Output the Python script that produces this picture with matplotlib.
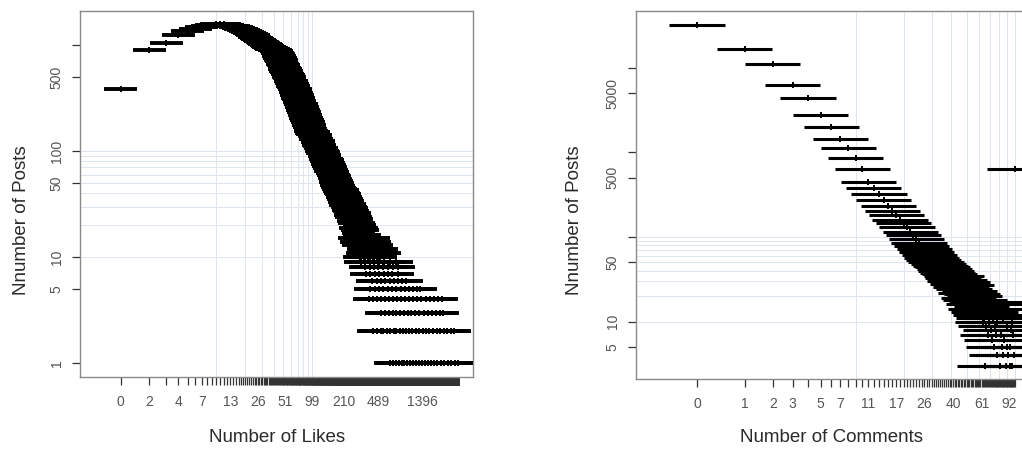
import numpy as np
import matplotlib
matplotlib.use('Agg')
import matplotlib.pyplot as plt
from matplotlib.ticker import NullLocator

plt.rcParams['font.family'] = ['Liberation Sans', 'DejaVu Sans']

# ---------------- likes: number of posts for each like count ----------------
# 0 .. 100 likes, one value per like count
likes_a = list(range(0, 101))
posts_a = [385, 900, 1045, 1240, 1340, 1420, 1480, 1525, 1550, 1560,
           1565, 1560, 1545, 1525, 1505, 1480, 1455, 1425, 1395, 1360,
           1330, 1295, 1265, 1235, 1200, 1175, 1145, 1120, 1095, 1070,
           1045, 1020, 1000, 985, 965, 950, 935, 925, 915, 905,
           895, 872, 836, 815, 781, 760, 726, 703, 664, 642,
           611, 596, 566, 555, 528, 521, 494, 483, 461, 455,
           434, 428, 409, 403, 386, 383, 364, 355, 336, 333,
           317, 312, 297, 293, 279, 275, 262, 260, 246, 244,
           232, 231, 219, 218, 207, 206, 197, 196, 187, 186,
           178, 177, 169, 170, 161, 162, 154, 156, 148, 150, 145]
# 102 .. 200 likes
likes_b = [102, 104, 106, 108, 110, 112, 114, 116, 118, 120, 122, 124, 126, 128, 130,
           132, 134, 136, 138, 140, 142, 144, 146, 148, 150, 152, 154, 156, 158, 160,
           162, 164, 166, 168, 170, 172, 174, 176, 178, 180, 182, 184, 186, 188, 190,
           192, 194, 196, 198, 200]
posts_b = [150, 139, 143, 131, 129, 121, 124, 113, 112, 106, 108, 100, 101, 95, 97,
           90, 91, 85, 84, 80, 82, 76, 77, 72, 74, 69, 70, 65, 67, 62,
           63, 59, 60, 56, 58, 53, 54, 51, 52, 48, 50, 46, 47, 44, 45,
           42, 44, 40, 41, 39]
# 203 .. 406 likes
likes_c = [203, 206, 209, 212, 215, 218, 221, 224, 227, 230, 233, 236, 240, 243, 247,
           251, 255, 259, 263, 267, 271, 275, 280, 284, 289, 294, 299, 304, 309, 314,
           320, 326, 332, 338, 345, 352, 359, 366, 374, 382, 390, 398, 406]
posts_c = [43, 37, 40, 35, 39, 33, 37, 31, 35, 30, 34, 28, 32, 27, 30,
           25, 29, 24, 27, 22, 26, 21, 24, 19, 23, 18, 21, 17, 20, 16,
           19, 15, 18, 14, 16, 13, 15, 12, 14, 11, 13, 10, 12]

# sparse tail: like values that occur in exactly n posts
tail_n = [1, 2, 3, 4, 5, 6, 7, 8, 9, 10, 11, 12, 13, 14, 15]
tail_likes = [
    [650, 690, 742, 801, 856, 913, 977, 1052, 1118, 1204, 1290, 1377, 1480, 1602,
     1735, 1869, 2011, 2190, 2374, 2580, 2810, 3060, 3300],
    [432, 470, 515, 548, 596, 640, 702, 748, 815, 880, 951, 1030, 1106, 1195, 1300,
     1412, 1530, 1665, 1810, 1975, 2150, 2340, 2560, 2800, 3030],
    [523, 575, 622, 688, 745, 818, 902, 985, 1080, 1190, 1310, 1445, 1590, 1760,
     1950, 2140, 2290],
    [392, 430, 476, 520, 571, 633, 690, 760, 840, 925, 1015, 1120, 1240, 1370, 1520,
     1690, 1870, 2060, 2230],
    [402, 447, 498, 548, 610, 672, 745, 830, 918, 1020, 1130, 1245, 1340],
    [421, 466, 520, 575, 640, 712, 790, 870, 948],
    [366, 402, 447, 496, 552, 610, 680, 778],
    [356, 395, 438, 488, 545, 612, 690, 781],
    [318, 352, 395, 440, 495, 560, 640, 745],
    [314, 348, 384, 430, 475, 508],
    [331, 368, 410, 455, 505, 560],
    [342, 380, 425, 470, 522],
    [300, 336, 372, 418, 462],
    [290, 326, 365, 404, 447],
    [276, 309, 345, 386, 430],
]

likes_tick_at = [0, 1, 3, 6, 13, 26, 51, 99, 210, 489, 1396]
likes_tick_lab = ['0', '2', '4', '7', '13', '26', '51', '99', '210', '489', '1396']
likes_max = 3330

# ---------------- comments: number of posts for each comment count ----------------
comments = list(range(0, 100))
comments_posts = [32000, 16500, 11100, 6250, 4350, 2780, 1970, 1430, 1120, 850,
                  630, 451, 380, 324, 274, 235, 204, 180, 160, 145,
                  130, 115, 105, 95, 85, 78, 72, 66, 61, 57,
                  54, 51, 48, 46, 44, 42, 40, 38, 37, 35,
                  33, 30, 35, 28, 31, 26, 29, 24, 22, 27,
                  19, 23, 18, 21, 16, 20, 14, 17, 13, 18,
                  12, 15, 10, 11, 3, 9, 12, 7, 10, 13,
                  8, 6, 11, 5, 9, 7, 4, 10, 16, 14,
                  3, 7, 5, 11, 4, 6, 17, 3, 5, 9,
                  4, 12, 3, 5, 8, 10, 3, 7, 4, 630]
comm_tick = [0, 1, 2, 3, 5, 7, 11, 17, 26, 40, 61, 92]

grid_vals = [10, 20, 30, 40, 50, 60, 70, 80, 90, 100]

half = 0.4          # half width of each segment on the log(x+1) axis
gray_axis = '#8a8a8a'
gray_text = '#555555'


def fwd(v):
    return np.log1p(np.clip(v, -0.999, None))


def inv(v):
    return np.expm1(v)


def draw(ax, x, n, lw):
    x = np.asarray(x, dtype=float)
    n = np.asarray(n, dtype=float)
    u = np.log1p(x)
    ax.hlines(n, np.expm1(u - half), np.expm1(u + half), color='black', lw=lw, zorder=3)
    ax.plot(x, n, ls='none', marker='+', ms=4.5, mew=1.4, color='black', zorder=4)


def style(ax, ylim, yticks, ylabs, xlim, xticks, xlabs, minor):
    ax.set_xscale('function', functions=(fwd, inv))
    ax.set_yscale('log')
    for v in grid_vals:
        ax.axvline(v - 1, color='#dce6ef', lw=0.7, zorder=1)
        ax.axhline(v, color='#dce6ef', lw=0.7, zorder=1)
    ax.set_xlim(*xlim)
    ax.set_ylim(*ylim)
    ax.yaxis.set_minor_locator(NullLocator())
    ax.set_yticks(yticks)
    ax.set_yticklabels(ylabs, rotation=90, va='center')
    ax.set_xticks(xticks)
    ax.set_xticklabels(xlabs)
    ax.set_xticks(minor, minor=True)
    ax.tick_params(which='both', direction='out', length=5.8, width=0.9,
                   color='#333333', labelcolor=gray_text, labelsize=10)
    ax.tick_params(axis='x', pad=7)
    ax.tick_params(axis='y', pad=6)
    for sp in ax.spines.values():
        sp.set_color(gray_axis)
        sp.set_linewidth(1.0)


fig = plt.figure(figsize=(10.22, 4.49), dpi=100)

# left panel: likes
ax1 = fig.add_axes([80 / 1022, 72 / 449, 393 / 1022, 366 / 449])
draw(ax1, likes_a, posts_a, 2.8)
draw(ax1, likes_b, posts_b, 2.8)
draw(ax1, likes_c, posts_c, 2.8)
for k, row in zip(tail_n, tail_likes):
    draw(ax1, row, [k] * len(row), 2.8)
style(ax1, (0.742, 2090), [1, 5, 10, 50, 100, 500, 1000],
      ['1', '5', '10', '50', '100', '500', ''],
      (np.expm1(-0.976), np.expm1(8.464)), likes_tick_at, likes_tick_lab,
      np.arange(0, likes_max + 1))

# right panel: comments
ax2 = fig.add_axes([636 / 1022, 70 / 449, 392 / 1022, 368 / 449])
draw(ax2, comments, comments_posts, 2.2)
style(ax2, (2.1, 46800), [5, 10, 50, 100, 500, 1000, 5000, 10000],
      ['5', '10', '50', '', '500', '', '5000', ''],
      (np.expm1(-0.884), np.expm1(4.80)), comm_tick, [str(c) for c in comm_tick],
      np.arange(0, 100))

fig.text(277 / 1022, 1 - 437 / 449, 'Number of Likes', ha='center', va='center',
         fontsize=13.5, color='#2a2a2a')
fig.text(22 / 1022, 0.5 + 4 / 449, 'Nnumber of Posts', ha='center', va='center',
         rotation=90, fontsize=13.5, color='#2a2a2a')
fig.text(832 / 1022, 1 - 437 / 449, 'Number of Comments', ha='center', va='center',
         fontsize=13.5, color='#2a2a2a')
fig.text(574 / 1022, 0.5 + 4 / 449, 'Nnumber of Posts', ha='center', va='center',
         rotation=90, fontsize=13.5, color='#2a2a2a')

fig.savefig('out.png', dpi=100)
